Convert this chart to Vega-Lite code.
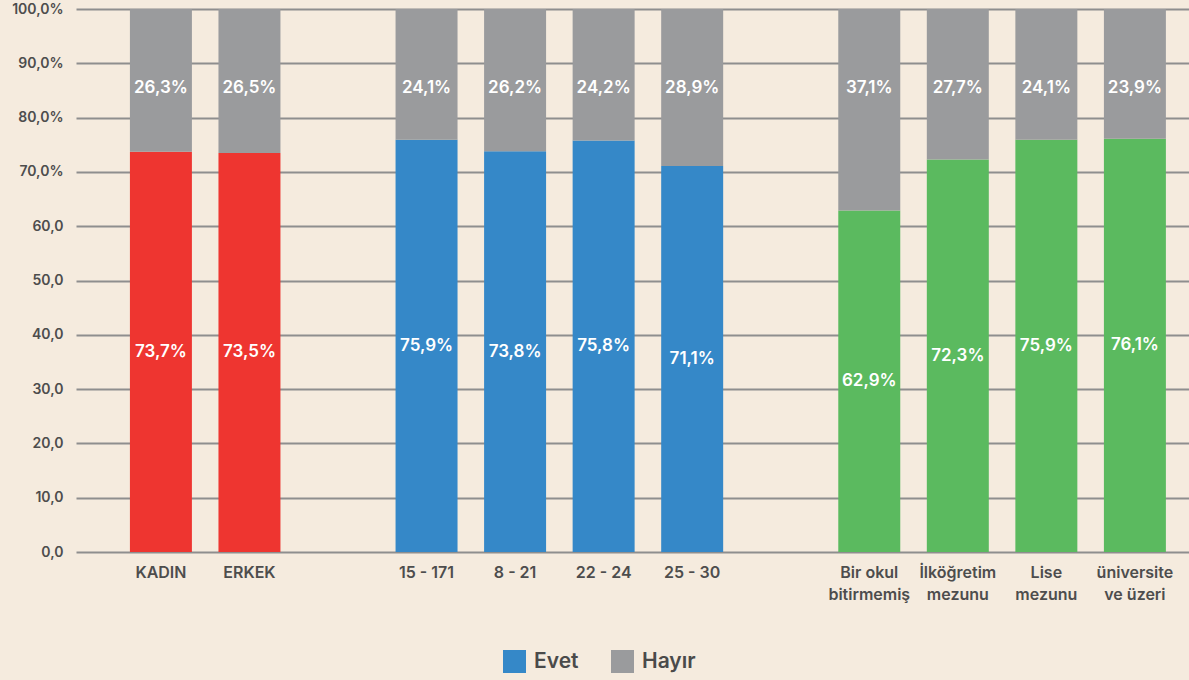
{
  "$schema": "https://vega.github.io/schema/vega-lite/v6.json",
  "autosize": {"type": "none"},
  "width": 1113,
  "height": 543,
  "padding": {"left": 76, "top": 9, "right": 0, "bottom": 128},
  "background": "#f5ebde",
  "config": {
    "view": {"stroke": null},
    "font": "Inter",
    "axis": {"labelFont": "Inter", "labelColor": "#4d4d4d", "labelFontWeight": 600}
  },
  "data": {
    "values": [
      {"cat": "KADIN", "answer": "Evet", "seg": "EvetK", "value": 73.7},
      {"cat": "KADIN", "answer": "Hayır", "seg": "Hayır", "value": 26.3},
      {"cat": "ERKEK", "answer": "Evet", "seg": "EvetK", "value": 73.5},
      {"cat": "ERKEK", "answer": "Hayır", "seg": "Hayır", "value": 26.5},
      {"cat": "15 - 171", "answer": "Evet", "seg": "Evet", "value": 75.9},
      {"cat": "15 - 171", "answer": "Hayır", "seg": "Hayır", "value": 24.1},
      {"cat": "8 - 21", "answer": "Evet", "seg": "Evet", "value": 73.8},
      {"cat": "8 - 21", "answer": "Hayır", "seg": "Hayır", "value": 26.2},
      {"cat": "22 - 24", "answer": "Evet", "seg": "Evet", "value": 75.8},
      {"cat": "22 - 24", "answer": "Hayır", "seg": "Hayır", "value": 24.2},
      {"cat": "25 - 30", "answer": "Evet", "seg": "Evet", "value": 71.1},
      {"cat": "25 - 30", "answer": "Hayır", "seg": "Hayır", "value": 28.9},
      {"cat": "Bir okul\nbitirmemiş", "answer": "Evet", "seg": "EvetE", "value": 62.9},
      {"cat": "Bir okul\nbitirmemiş", "answer": "Hayır", "seg": "Hayır", "value": 37.1},
      {"cat": "İlköğretim\nmezunu", "answer": "Evet", "seg": "EvetE", "value": 72.3},
      {"cat": "İlköğretim\nmezunu", "answer": "Hayır", "seg": "Hayır", "value": 27.7},
      {"cat": "Lise\nmezunu", "answer": "Evet", "seg": "EvetE", "value": 75.9},
      {"cat": "Lise\nmezunu", "answer": "Hayır", "seg": "Hayır", "value": 24.1},
      {"cat": "üniversite\nve üzeri", "answer": "Evet", "seg": "EvetE", "value": 76.1},
      {"cat": "üniversite\nve üzeri", "answer": "Hayır", "seg": "Hayır", "value": 23.9}
    ]
  },
  "transform": [
    {"calculate": "replace(format(datum.value, '.1f'), '.', ',') + '%'", "as": "lbl"}
  ],
  "encoding": {
    "x": {
      "field": "cat",
      "type": "nominal",
      "scale": {
        "domain": ["KADIN", "ERKEK", "s1", "15 - 171", "8 - 21", "22 - 24", "25 - 30", "s2", "Bir okul\nbitirmemiş", "İlköğretim\nmezunu", "Lise\nmezunu", "üniversite\nve üzeri"],
        "paddingInner": 0.3,
        "paddingOuter": 0.435,
        "align": 0.7
      },
      "axis": {
        "title": null,
        "domain": false,
        "ticks": false,
        "labelAngle": 0,
        "labelFontSize": 16,
        "labelLineHeight": 22,
        "labelPadding": 12,
        "labelBaseline": "top",
        "labelExpr": "datum.value == 's1' || datum.value == 's2' ? '' : split(datum.label, '\\n')"
      }
    }
  },
  "layer": [
    {
      "mark": {"type": "bar"},
      "encoding": {
        "y": {
          "field": "value",
          "type": "quantitative",
          "stack": "zero",
          "scale": {"domain": [0, 100], "nice": false},
          "axis": {
            "title": null,
            "values": [0, 10, 20, 30, 40, 50, 60, 70, 80, 90, 100],
            "domain": false,
            "ticks": false,
            "grid": true,
            "gridColor": "#8e8e8e",
            "gridWidth": 2,
            "labelFontSize": 14,
            "labelPadding": 13,
            "labelExpr": "replace(format(datum.value, '.1f'), '.', ',') + (datum.value >= 70 ? '%' : '')"
          }
        },
        "color": {
          "field": "seg",
          "type": "nominal",
          "scale": {
            "domain": ["Evet", "Hayır", "EvetK", "EvetE"],
            "range": ["#3588c8", "#9a9b9d", "#ee3530", "#5bba5f"]
          },
          "legend": {
            "title": null,
            "values": ["Evet", "Hayır"],
            "orient": "none",
            "direction": "horizontal",
            "legendX": 427,
            "legendY": 641,
            "symbolType": "square",
            "symbolSize": 529,
            "symbolStrokeWidth": 0,
            "symbolOpacity": 1,
            "labelFontSize": 21,
            "labelFont": "Inter",
            "labelFontWeight": 600,
            "labelColor": "#4a4a4a",
            "labelOffset": 8,
            "columnPadding": 32
          }
        },
        "order": {"field": "answer", "sort": "ascending"}
      }
    },
    {
      "transform": [
        {"filter": "datum.answer == 'Evet'"},
        {"calculate": "datum.value / 2", "as": "mid"}
      ],
      "mark": {"type": "text", "color": "white", "fontSize": 17, "fontWeight": 600, "font": "Inter"},
      "encoding": {
        "y": {"field": "mid", "type": "quantitative"},
        "text": {"field": "lbl", "type": "nominal"}
      }
    },
    {
      "transform": [
        {"filter": "datum.answer == 'Hayır'"}
      ],
      "mark": {"type": "text", "color": "white", "fontSize": 17, "fontWeight": 600, "font": "Inter"},
      "encoding": {
        "y": {"datum": 85.5, "type": "quantitative"},
        "text": {"field": "lbl", "type": "nominal"}
      }
    }
  ]
}
